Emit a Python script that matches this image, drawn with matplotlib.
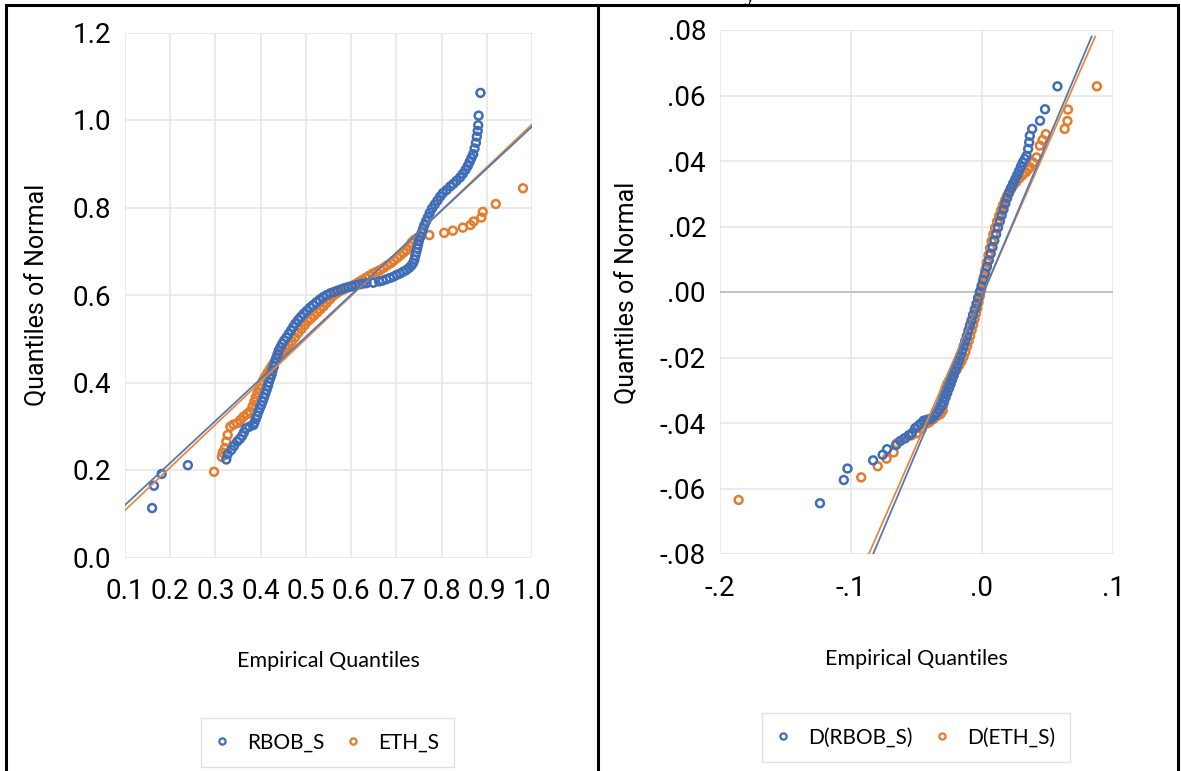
import numpy as np
import matplotlib.pyplot as plt
from matplotlib.lines import Line2D

#- Datos -#
# Panel izquierdo: (cuantil empirico, cuantil normal)
rbob_pts = [(0.160, 0.113), (0.164, 0.164), (0.181, 0.191), (0.239, 0.211), (0.324, 0.224),
            (0.327, 0.236), (0.335, 0.246), (0.341, 0.255), (0.348, 0.265), (0.354, 0.271),
            (0.359, 0.278), (0.363, 0.286), (0.367, 0.295), (0.375, 0.299), (0.384, 0.303),
            (0.386, 0.308), (0.389, 0.316), (0.392, 0.324), (0.395, 0.333), (0.398, 0.341),
            (0.401, 0.348), (0.404, 0.356), (0.407, 0.365), (0.410, 0.374), (0.413, 0.383),
            (0.416, 0.392), (0.418, 0.400), (0.421, 0.409), (0.424, 0.418), (0.426, 0.427),
            (0.429, 0.436), (0.431, 0.445), (0.434, 0.455), (0.437, 0.464), (0.440, 0.473),
            (0.444, 0.481), (0.448, 0.489), (0.452, 0.496), (0.457, 0.503), (0.462, 0.511),
            (0.467, 0.519), (0.472, 0.527), (0.477, 0.535), (0.483, 0.543), (0.489, 0.550),
            (0.495, 0.557), (0.502, 0.564), (0.509, 0.571), (0.516, 0.577), (0.523, 0.583),
            (0.530, 0.589), (0.538, 0.595), (0.546, 0.600), (0.554, 0.604), (0.562, 0.607),
            (0.570, 0.610), (0.578, 0.613), (0.586, 0.616), (0.594, 0.618), (0.602, 0.620),
            (0.610, 0.622), (0.618, 0.624), (0.626, 0.626), (0.634, 0.627), (0.649, 0.628),
            (0.662, 0.631), (0.670, 0.633), (0.678, 0.636), (0.686, 0.639), (0.694, 0.642),
            (0.701, 0.646), (0.708, 0.649), (0.715, 0.653), (0.722, 0.657), (0.728, 0.662),
            (0.733, 0.667), (0.737, 0.673), (0.740, 0.681), (0.742, 0.690), (0.744, 0.698),
            (0.746, 0.706), (0.748, 0.715), (0.750, 0.724), (0.753, 0.733), (0.756, 0.742),
            (0.759, 0.751), (0.762, 0.760), (0.766, 0.769), (0.770, 0.778), (0.774, 0.788),
            (0.779, 0.798), (0.785, 0.807), (0.791, 0.816), (0.797, 0.825), (0.803, 0.833),
            (0.811, 0.840), (0.819, 0.848), (0.826, 0.854), (0.833, 0.861), (0.841, 0.869),
            (0.847, 0.877), (0.853, 0.886), (0.858, 0.895), (0.862, 0.904), (0.866, 0.913),
            (0.870, 0.922), (0.873, 0.935), (0.876, 0.948), (0.878, 0.962), (0.880, 0.975),
            (0.881, 0.988), (0.882, 1.010), (0.886, 1.062)]

eth_pts = [(0.297, 0.196), (0.314, 0.230), (0.316, 0.240), (0.321, 0.250), (0.324, 0.265),
           (0.327, 0.280), (0.333, 0.299), (0.340, 0.304), (0.348, 0.307), (0.355, 0.314),
           (0.362, 0.322), (0.370, 0.328), (0.377, 0.334), (0.382, 0.345), (0.386, 0.356),
           (0.389, 0.366), (0.393, 0.376), (0.397, 0.386), (0.401, 0.395), (0.405, 0.404),
           (0.410, 0.413), (0.415, 0.422), (0.420, 0.430), (0.425, 0.438), (0.430, 0.446),
           (0.436, 0.454), (0.442, 0.462), (0.448, 0.470), (0.455, 0.478), (0.462, 0.486),
           (0.469, 0.494), (0.476, 0.503), (0.483, 0.513), (0.490, 0.522), (0.497, 0.531),
           (0.504, 0.540), (0.511, 0.546), (0.518, 0.553), (0.525, 0.560), (0.532, 0.567),
           (0.539, 0.574), (0.546, 0.582), (0.553, 0.590), (0.560, 0.598), (0.568, 0.604),
           (0.576, 0.609), (0.584, 0.613), (0.592, 0.617), (0.600, 0.620), (0.608, 0.624),
           (0.616, 0.629), (0.624, 0.634), (0.632, 0.639), (0.640, 0.644), (0.648, 0.649),
           (0.656, 0.653), (0.664, 0.657), (0.672, 0.662), (0.680, 0.668), (0.688, 0.673),
           (0.695, 0.679), (0.702, 0.685), (0.709, 0.691), (0.716, 0.697), (0.723, 0.703),
           (0.729, 0.712), (0.734, 0.720), (0.740, 0.726), (0.746, 0.730), (0.753, 0.733),
           (0.773, 0.737), (0.806, 0.742), (0.825, 0.747), (0.847, 0.754), (0.864, 0.760),
           (0.871, 0.768), (0.888, 0.777), (0.891, 0.790), (0.920, 0.808), (0.980, 0.844)]

# Rectas de referencia (extremos)
rbob_line_x = [0.1, 1.0]
rbob_line_y = [0.120, 0.985]
eth_line_x = [0.1, 1.0]
eth_line_y = [0.108, 0.990]

# Panel derecho: primeras diferencias
d_rbob_pts = [(-0.1237, -0.0645), (-0.1055, -0.0574), (-0.1027, -0.0539), (-0.0831, -0.0514),
              (-0.0758, -0.0497), (-0.0725, -0.0480), (-0.0656, -0.0467), (-0.0624, -0.0455),
              (-0.0593, -0.0447), (-0.0560, -0.0438), (-0.0535, -0.0431), (-0.0510, -0.0416),
              (-0.0490, -0.0410), (-0.0471, -0.0403), (-0.0446, -0.0393), (-0.0420, -0.0390),
              (-0.0400, -0.0389), (-0.0385, -0.0386), (-0.0365, -0.0378), (-0.0345, -0.0369),
              (-0.0325, -0.0359), (-0.0308, -0.0348), (-0.0292, -0.0336), (-0.0278, -0.0322),
              (-0.0265, -0.0308), (-0.0252, -0.0294), (-0.0240, -0.0281), (-0.0228, -0.0268),
              (-0.0216, -0.0255), (-0.0203, -0.0240), (-0.0190, -0.0225), (-0.0177, -0.0210),
              (-0.0165, -0.0195), (-0.0152, -0.0180), (-0.0140, -0.0165), (-0.0128, -0.0150),
              (-0.0116, -0.0135), (-0.0104, -0.0118), (-0.0092, -0.0102), (-0.0080, -0.0087),
              (-0.0068, -0.0070), (-0.0055, -0.0053), (-0.0042, -0.0036), (-0.0030, -0.0018),
              (-0.0017, 0.0000), (-0.0004, 0.0018), (0.0010, 0.0037), (0.0024, 0.0057),
              (0.0038, 0.0077), (0.0052, 0.0097), (0.0066, 0.0117), (0.0080, 0.0137),
              (0.0094, 0.0157), (0.0108, 0.0177), (0.0122, 0.0197), (0.0136, 0.0216),
              (0.0150, 0.0234), (0.0164, 0.0252), (0.0178, 0.0270), (0.0192, 0.0287),
              (0.0207, 0.0303), (0.0222, 0.0318), (0.0237, 0.0331), (0.0252, 0.0343),
              (0.0267, 0.0356), (0.0282, 0.0369), (0.0297, 0.0383), (0.0312, 0.0396),
              (0.0327, 0.0406), (0.0340, 0.0416), (0.0352, 0.0437), (0.0360, 0.0457),
              (0.0365, 0.0477), (0.0383, 0.0498), (0.0443, 0.0523), (0.0481, 0.0558),
              (0.0576, 0.0628)]

d_eth_pts = [(-0.1858, -0.0635), (-0.0922, -0.0566), (-0.0796, -0.0532), (-0.0728, -0.0509),
             (-0.0675, -0.0490), (-0.0649, -0.0462), (-0.0586, -0.0447), (-0.0540, -0.0438),
             (-0.0497, -0.0431), (-0.0460, -0.0418), (-0.0421, -0.0401), (-0.0400, -0.0397),
             (-0.0370, -0.0388), (-0.0340, -0.0378), (-0.0315, -0.0372), (-0.0300, -0.0362),
             (-0.0296, -0.0345), (-0.0292, -0.0327), (-0.0286, -0.0310), (-0.0278, -0.0293),
             (-0.0265, -0.0280), (-0.0250, -0.0270), (-0.0232, -0.0260), (-0.0212, -0.0248),
             (-0.0192, -0.0236), (-0.0174, -0.0224), (-0.0157, -0.0212), (-0.0141, -0.0198),
             (-0.0127, -0.0183), (-0.0114, -0.0166), (-0.0102, -0.0150), (-0.0090, -0.0134),
             (-0.0079, -0.0117), (-0.0068, -0.0100), (-0.0057, -0.0083), (-0.0046, -0.0066),
             (-0.0036, -0.0049), (-0.0026, -0.0031), (-0.0016, -0.0012), (-0.0006, 0.0007),
             (0.0004, 0.0027), (0.0015, 0.0047), (0.0026, 0.0068), (0.0037, 0.0090),
             (0.0049, 0.0112), (0.0061, 0.0134), (0.0073, 0.0155), (0.0086, 0.0176),
             (0.0100, 0.0196), (0.0115, 0.0215), (0.0130, 0.0232), (0.0145, 0.0249),
             (0.0160, 0.0265), (0.0176, 0.0280), (0.0192, 0.0294), (0.0208, 0.0306),
             (0.0224, 0.0316), (0.0238, 0.0325), (0.0260, 0.0335), (0.0285, 0.0347),
             (0.0310, 0.0357), (0.0335, 0.0366), (0.0352, 0.0374), (0.0365, 0.0381),
             (0.0390, 0.0395), (0.0416, 0.0411), (0.0441, 0.0447), (0.0462, 0.0464),
             (0.0487, 0.0482), (0.0631, 0.0498), (0.0652, 0.0522), (0.0656, 0.0557),
             (0.0877, 0.0628)]

d_rbob_line_x = [-0.0831, 0.0837]
d_rbob_line_y = [-0.080, 0.078]
d_eth_line_x = [-0.0864, 0.0864]
d_eth_line_y = [-0.080, 0.078]

# Ejes y etiquetas
left_xticks = [0.1, 0.2, 0.3, 0.4, 0.5, 0.6, 0.7, 0.8, 0.9, 1.0]
left_yticks = [0.0, 0.2, 0.4, 0.6, 0.8, 1.0, 1.2]
right_xticks = [-0.2, -0.1, 0.0, 0.1]
right_xlabels = ['-.2', '-.1', '.0', '.1']
right_yticks = [-0.08, -0.06, -0.04, -0.02, 0.0, 0.02, 0.04, 0.06, 0.08]
right_ylabels = ['-.08', '-.06', '-.04', '-.02', '.00', '.02', '.04', '.06', '.08']

#- Estilo -#
azul = '#3F6DB7'
naranja = '#E57B2C'
azul_linea = '#5578B5'
naranja_linea = '#E8893F'
malla = '#E6E6E6'
fuente_num = ['Roboto', 'DejaVu Sans']
fuente_txt = ['Lato', 'DejaVu Sans']

W, H = 1181, 771
fig = plt.figure(figsize=(W / 100, H / 100), dpi=100)


def px_axes(x0, x1, y0, y1):
    # Convierte una caja en pixeles (arriba-abajo) a coordenadas de figura.
    return fig.add_axes([x0 / W, 1 - y1 / H, (x1 - x0) / W, (y1 - y0) / H])


def estilo(ax):
    for s in ax.spines.values():
        s.set_visible(False)
    ax.grid(True, color=malla, linewidth=1.2)
    ax.set_axisbelow(True)
    ax.tick_params(length=0, labelsize=20)
    ax.tick_params(axis='y', pad=10)
    ax.tick_params(axis='x', pad=15)
    for t in ax.get_xticklabels() + ax.get_yticklabels():
        t.set_family(fuente_num)


#- Panel izquierdo -#
ax1 = px_axes(125, 532, 32.5, 557.5)
rb = np.array(rbob_pts)
et = np.array(eth_pts)
ax1.scatter(rb[:, 0], rb[:, 1], s=32, facecolors='none', edgecolors=azul, linewidths=1.8, zorder=3)
ax1.scatter(et[:, 0], et[:, 1], s=32, facecolors='none', edgecolors=naranja, linewidths=1.8, zorder=2)
ax1.plot(eth_line_x, eth_line_y, color=naranja_linea, linewidth=1.3, zorder=4)
ax1.plot(rbob_line_x, rbob_line_y, color=azul_linea, linewidth=1.3, zorder=4)
ax1.set_xlim(0.1, 1.0)
ax1.set_ylim(0.0, 1.2)
ax1.set_xticks(left_xticks)
ax1.set_xticklabels([f'{v:.1f}' for v in left_xticks])
ax1.set_yticks(left_yticks)
ax1.set_yticklabels([f'{v:.1f}' for v in left_yticks])
estilo(ax1)

#- Panel derecho -#
ax2 = px_axes(720, 1113, 30, 554)
drb = np.array(d_rbob_pts)
det = np.array(d_eth_pts)
ax2.axhline(0, color='#BFBFBF', linewidth=1.3, zorder=1)
ax2.scatter(det[:, 0], det[:, 1], s=32, facecolors='none', edgecolors=naranja, linewidths=1.8, zorder=2)
ax2.scatter(drb[:, 0], drb[:, 1], s=32, facecolors='none', edgecolors=azul, linewidths=1.8, zorder=3)
ax2.plot(d_eth_line_x, d_eth_line_y, color=naranja_linea, linewidth=1.3, zorder=4)
ax2.plot(d_rbob_line_x, d_rbob_line_y, color=azul_linea, linewidth=1.3, zorder=4)
ax2.set_xlim(-0.2, 0.1)
ax2.set_ylim(-0.08, 0.08)
ax2.set_xticks(right_xticks)
ax2.set_xticklabels(right_xlabels)
ax2.set_yticks(right_yticks)
ax2.set_yticklabels(right_ylabels)
estilo(ax2)

#- Titulos de ejes -#
fig.text(37 / W, 1 - 295 / H, 'Quantiles of Normal', rotation=90, ha='center', va='center',
         fontsize=18, family=fuente_num)
fig.text(627 / W, 1 - 293 / H, 'Quantiles of Normal', rotation=90, ha='center', va='center',
         fontsize=18, family=fuente_num)
fig.text(328 / W, 1 - 661 / H, 'Empirical Quantiles', ha='center', va='center',
         fontsize=15.5, family=fuente_txt)
fig.text(916 / W, 1 - 659 / H, 'Empirical Quantiles', ha='center', va='center',
         fontsize=15.5, family=fuente_txt)

# Resto de un titulo cortado en el borde superior
fig.text(750 / W, 1 - 1 / H, 'y', ha='center', va='baseline', fontsize=16, family='DejaVu Serif')

#- Leyendas -#
def leyenda(x_centro, y_arriba, nombres):
    h = [Line2D([], [], linestyle='none', marker='o', markersize=4.5, markerfacecolor='none',
                markeredgecolor=c, markeredgewidth=1.6) for c in (azul, naranja)]
    lg = fig.legend(h, nombres, loc='upper center', bbox_to_anchor=(x_centro / W, 1 - y_arriba / H),
                    ncol=2, frameon=True, fancybox=False, edgecolor='#D9D9D9', handlelength=0.6,
                    columnspacing=1.1, handletextpad=0.9, borderpad=0.7, borderaxespad=0,
                    prop={'family': fuente_txt, 'size': 15})
    lg.get_frame().set_linewidth(1.0)


leyenda(327.5, 718, ['RBOB_S', 'ETH_S'])
leyenda(916, 713, ['D(RBOB_S)', 'D(ETH_S)'])

#- Marco de la tabla -#
for xs, ys in [([6, 1178], [5, 5]), ([6, 6], [5, 771]), ([598, 598], [5, 771]), ([1178, 1178], [5, 771])]:
    fig.add_artist(Line2D([x / W for x in xs], [1 - y / H for y in ys], color='black', linewidth=2.2))

fig.savefig('out.png', dpi=100)
